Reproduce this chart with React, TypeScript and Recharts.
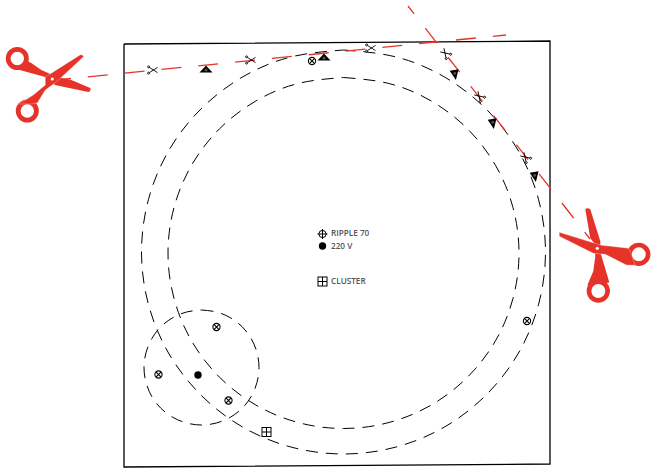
import React from 'react';
import { ComposedChart, Line, Scatter, XAxis, YAxis } from 'recharts';

// everything in page pixels, so the axes just run 0..651 / 0..468
const framePoints = [
  { x: 124, y: 44 },
  { x: 550, y: 41 },
  { x: 550, y: 464 },
  { x: 124, y: 467 },
  { x: 124, y: 44 },
];

const outerRing = [
  { x: 343.5, y: 50 }, { x: 395.8, y: 56.9 }, { x: 444.5, y: 77 }, { x: 486.3, y: 109.2 },
  { x: 518.5, y: 151 }, { x: 538.6, y: 199.7 }, { x: 545.5, y: 252 }, { x: 538.6, y: 304.3 },
  { x: 518.5, y: 353 }, { x: 486.3, y: 394.8 }, { x: 444.5, y: 427 }, { x: 395.8, y: 447.1 },
  { x: 343.5, y: 454 }, { x: 291.2, y: 447.1 }, { x: 242.5, y: 427 }, { x: 200.7, y: 394.8 },
  { x: 168.5, y: 353 }, { x: 148.4, y: 304.3 }, { x: 141.5, y: 252 }, { x: 148.4, y: 199.7 },
  { x: 168.5, y: 151 }, { x: 200.7, y: 109.2 }, { x: 242.5, y: 77 }, { x: 291.2, y: 56.9 },
  { x: 343.5, y: 50 },
];

const innerRing = [
  { x: 343.5, y: 77.5 }, { x: 388.9, y: 83.5 }, { x: 431.3, y: 101 }, { x: 467.6, y: 128.9 },
  { x: 495.5, y: 165.3 }, { x: 513, y: 207.6 }, { x: 519, y: 253 }, { x: 513, y: 298.4 },
  { x: 495.5, y: 340.8 }, { x: 467.6, y: 377.1 }, { x: 431.3, y: 405 }, { x: 388.9, y: 422.5 },
  { x: 343.5, y: 428.5 }, { x: 298.1, y: 422.5 }, { x: 255.8, y: 405 }, { x: 219.4, y: 377.1 },
  { x: 191.5, y: 340.8 }, { x: 174, y: 298.4 }, { x: 168, y: 253 }, { x: 174, y: 207.6 },
  { x: 191.5, y: 165.3 }, { x: 219.4, y: 128.9 }, { x: 255.8, y: 101 }, { x: 298.1, y: 83.5 },
  { x: 343.5, y: 77.5 },
];

const smallRing = [
  { x: 201.5, y: 310 }, { x: 216.4, y: 312 }, { x: 230.3, y: 317.7 }, { x: 242.2, y: 326.8 },
  { x: 251.3, y: 338.8 }, { x: 257, y: 352.6 }, { x: 259, y: 367.5 }, { x: 257, y: 382.4 },
  { x: 251.3, y: 396.3 }, { x: 242.2, y: 408.2 }, { x: 230.3, y: 417.3 }, { x: 216.4, y: 423 },
  { x: 201.5, y: 425 }, { x: 186.6, y: 423 }, { x: 172.8, y: 417.3 }, { x: 160.8, y: 408.2 },
  { x: 151.7, y: 396.3 }, { x: 146, y: 382.4 }, { x: 144, y: 367.5 }, { x: 146, y: 352.6 },
  { x: 151.7, y: 338.8 }, { x: 160.8, y: 326.8 }, { x: 172.8, y: 317.7 }, { x: 186.6, y: 312 },
  { x: 201.5, y: 310 },
];

const cutLineA = [
  { x: 51, y: 80.5 },
  { x: 506, y: 35 },
];

const cutLineB = [
  { x: 408, y: 6 },
  { x: 590, y: 239 },
];

const scissorsFlat = [
  { x: 152, y: 70 },
  { x: 250, y: 60 },
  { x: 370, y: 48 },
];
const scissorsTurned = [
  { x: 446, y: 54 },
  { x: 480, y: 97 },
  { x: 526, y: 158 },
];
const trianglesFlat = [
  { x: 206, y: 69 },
  { x: 324, y: 57 },
];
const trianglesTurned = [
  { x: 455, y: 75 },
  { x: 493, y: 124 },
  { x: 535, y: 177 },
];
const ringTargets = [
  { x: 312, y: 61 },
  { x: 527, y: 321 },
  { x: 216.5, y: 327 },
  { x: 158.5, y: 374.5 },
  { x: 228.5, y: 400.5 },
];
const legendTarget = [{ x: 322.5, y: 234 }];
const dots = [
  { x: 198, y: 375 },
  { x: 322.5, y: 246 },
];
const squares = [
  { x: 266.5, y: 432 },
  { x: 322.5, y: 281.5 },
];
const labels = [
  { x: 331, y: 233, text: 'RIPPLE 70' },
  { x: 331, y: 246, text: '220 V' },
  { x: 331, y: 281, text: 'CLUSTER' },
];
const bigScissorsLeft = [{ x: 52.3, y: 79 }];
const bigScissorsRight = [{ x: 597.3, y: 248.3 }];

const RED = '#e6332a';

function SmallScissors({ cx, cy, angle = 0 }: any) {
  return (
    <g transform={`translate(${cx},${cy}) rotate(${angle})`} fill="none" stroke="#000" strokeWidth={0.9}>
      <path d="M-2.6,-2.6 L5.5,2.6 M-2.6,2.6 L5.5,-2.6" />
      <circle cx={-3.4} cy={-3.1} r={1} fill="#fff" />
      <circle cx={-3.4} cy={3.1} r={1} fill="#fff" />
    </g>
  );
}

function Triangle({ cx, cy, w, h, angle = 0 }: any) {
  return (
    <g transform={`translate(${cx},${cy}) rotate(${angle})`}>
      <path d={`M${-w / 2},${h / 2} L${w / 2},${h / 2} L0,${-h / 2} Z`} fill="#000" />
      <circle cx={0} cy={h / 6} r={1.4} fill="#555" />
    </g>
  );
}

function RingTarget({ cx, cy }: any) {
  return (
    <g fill="none" stroke="#000" strokeWidth={1.1}>
      <circle cx={cx} cy={cy} r={3.6} />
      <path d={`M${cx - 2.6},${cy - 2.6} L${cx + 2.6},${cy + 2.6} M${cx - 2.6},${cy + 2.6} L${cx + 2.6},${cy - 2.6}`} />
    </g>
  );
}

function LegendTarget({ cx, cy }: any) {
  return (
    <g fill="none" stroke="#000" strokeWidth={1}>
      <circle cx={cx} cy={cy} r={3.6} />
      <path d={`M${cx - 5},${cy} H${cx + 5} M${cx},${cy - 5} V${cy + 5}`} />
    </g>
  );
}

function Dot({ cx, cy }: any) {
  return <circle cx={cx} cy={cy} r={3.7} fill="#000" />;
}

function SquareMark({ cx, cy }: any) {
  return (
    <g fill="#fff" stroke="#000" strokeWidth={1}>
      <rect x={cx - 4.5} y={cy - 4.5} width={9} height={9} />
      <path d={`M${cx - 4.5},${cy} H${cx + 4.5} M${cx},${cy - 4.5} V${cy + 4.5}`} />
    </g>
  );
}

function LabelText({ cx, cy, payload }: any) {
  return (
    <text x={cx} y={cy + 3} fontFamily="'Open Sans', sans-serif" fontSize={8.2} fontWeight={600} fill="#555">
      {payload.text}
    </text>
  );
}

function BigLeft({ cx, cy }: any) {
  return (
    <g transform={`translate(${cx},${cy})`} fill={RED}>
      <circle cx={-35} cy={-20.5} r={9.1} fill="none" stroke={RED} strokeWidth={4.8} />
      <circle cx={-25} cy={32} r={9.1} fill="none" stroke={RED} strokeWidth={4.8} />
      <path d="M38,9 Q39,12 36,13 L2.7,6 L-7,-2 L-29,-8 L-38,-10.5 L-33,-12.5 L-27,-16 L-25,-18 L-21,-16 L-11,-9 L-2,-5 L9,-1 L19,1 Z" />
      <path
        d="M27.7,-24 Q30,-25 31.5,-22.5 L4.3,2.7 L-7,11 L-15,24 L-21,25 L-29,25 L-35,25 Q-26,21 -19,16 L-7,6 L-7,-2 Z"
        stroke="#fff"
        strokeWidth={0.3}
      />
      <circle cx={0} cy={0} r={1.6} fill="#fff" />
    </g>
  );
}

function BigRight({ cx, cy }: any) {
  return (
    <g transform={`translate(${cx},${cy})`} fill={RED}>
      <circle cx={41.5} cy={6} r={9.3} fill="none" stroke={RED} strokeWidth={4.7} />
      <circle cx={1} cy={42.7} r={9.3} fill="none" stroke={RED} strokeWidth={4.7} />
      <path d="M-12,-39 Q-10,-41 -7,-39 L3,-7 L3,3 L4,7 L12,34 L6,36 L-3,35.5 L-10,37 L-4,23 L-2,8 L-3,-5 L-7,-10 Z" />
      <path
        d="M-38,-16 L-38,-12 L-4,5 L8,6 L29,16.7 L38,17 L36,12 L33,3 L31,0 L14,-2 L4,-3 Z"
        stroke="#fff"
        strokeWidth={0.3}
      />
      <circle cx={0} cy={0} r={1.6} fill="#fff" />
    </g>
  );
}

const dashedBlack = { stroke: '#000', strokeWidth: 1, strokeDasharray: '12 8', type: 'natural' as const };

export default function App() {
  return (
    <div style={{ position: 'absolute', left: 0, top: 0, width: 651, height: 468 }}>
      <ComposedChart width={651} height={468} margin={{ top: 0, right: 0, bottom: 0, left: 0 }}>
        <XAxis type="number" dataKey="x" domain={[0, 651]} hide />
        <YAxis type="number" dataKey="y" domain={[0, 468]} reversed hide />
        <Line data={framePoints} dataKey="y" type="linear" stroke="#000" strokeWidth={1.3} dot={false} activeDot={false} isAnimationActive={false} />
        <Line data={outerRing} dataKey="y" {...dashedBlack} dot={false} activeDot={false} isAnimationActive={false} />
        <Line data={innerRing} dataKey="y" {...dashedBlack} dot={false} activeDot={false} isAnimationActive={false} />
        <Line data={smallRing} dataKey="y" {...dashedBlack} dot={false} activeDot={false} isAnimationActive={false} />
        <Line data={cutLineA} dataKey="y" type="linear" stroke={RED} strokeWidth={1.3} strokeDasharray="20 17" dot={false} activeDot={false} isAnimationActive={false} />
        <Line data={cutLineB} dataKey="y" type="linear" stroke={RED} strokeWidth={1.3} strokeDasharray="19 18" strokeDashoffset={9} dot={false} activeDot={false} isAnimationActive={false} />
        <Scatter data={scissorsFlat} dataKey="y" shape={(p: any) => <SmallScissors {...p} />} isAnimationActive={false} />
        <Scatter data={scissorsTurned} dataKey="y" shape={(p: any) => <SmallScissors {...p} angle={225} />} isAnimationActive={false} />
        <Scatter data={trianglesFlat} dataKey="y" shape={(p: any) => <Triangle {...p} w={13} h={7} />} isAnimationActive={false} />
        <Scatter data={trianglesTurned} dataKey="y" shape={(p: any) => <Triangle {...p} w={9} h={10} angle={170} />} isAnimationActive={false} />
        <Scatter data={ringTargets} dataKey="y" shape={(p: any) => <RingTarget {...p} />} isAnimationActive={false} />
        <Scatter data={legendTarget} dataKey="y" shape={(p: any) => <LegendTarget {...p} />} isAnimationActive={false} />
        <Scatter data={dots} dataKey="y" shape={(p: any) => <Dot {...p} />} isAnimationActive={false} />
        <Scatter data={squares} dataKey="y" shape={(p: any) => <SquareMark {...p} />} isAnimationActive={false} />
        <Scatter data={labels} dataKey="y" shape={(p: any) => <LabelText {...p} />} isAnimationActive={false} />
        <Scatter data={bigScissorsLeft} dataKey="y" shape={(p: any) => <BigLeft {...p} />} isAnimationActive={false} />
        <Scatter data={bigScissorsRight} dataKey="y" shape={(p: any) => <BigRight {...p} />} isAnimationActive={false} />
      </ComposedChart>
    </div>
  );
}
